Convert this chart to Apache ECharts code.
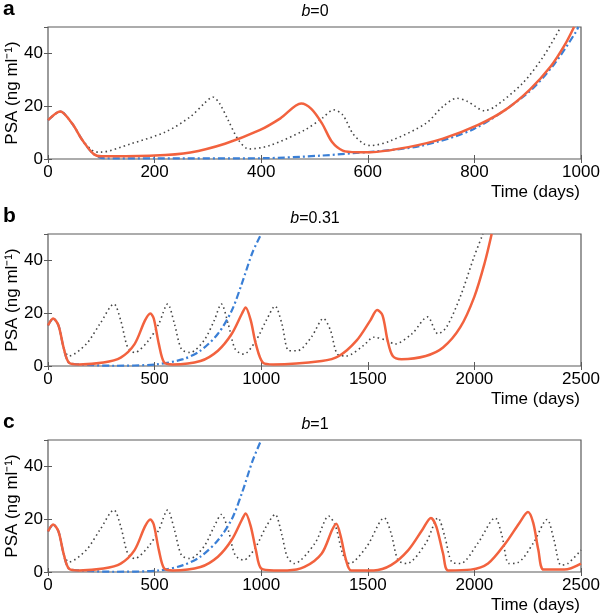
<!DOCTYPE html>
<html>
<head>
<meta charset="utf-8">
<script src="https://cdn.jsdelivr.net/npm/echarts@6/dist/echarts.min.js"></script>
<style>html,body{margin:0;padding:0;background:#fff;}#c{width:600px;height:615px;}</style>
</head>
<body>
<div id="c"></div>
<script>
// ---- data (time in days, PSA in ng/ml) ----
var panelTitles = ['0', '0.31', '1'];
var panelLetters = ['a', 'b', 'c'];
var xMaxes = [1000, 2500, 2500];
var xIntervals = [200, 500, 500];
var yTicks = [0, 20, 40];

var aRed = [[0,14.7],[23,18],[45,13.5],[65,7],[85,2],[100,1],[200,1.3],[267,2.5],[332,5.8],[397,10.9],[436,15.4],[475,21],[494,19],[514,13.5],[533,6.4],[553,3.2],[579,2.6],[605,2.6],[676,4.5],[741,7.7],[806,12.8],[858,18.6],[904,26.3],[943,35],[969,43],[987,50]];
var aDot = [[0,14.7],[23,18],[45,13.5],[65,7],[85,3],[98,2.6],[156,5.8],[221,10.3],[267,16],[293,21],[309,23.5],[322,21],[338,14.7],[358,7],[377,3.8],[416,5.1],[481,10.9],[514,15.4],[536,18.6],[553,16.7],[572,9.6],[592,5.8],[605,5.1],[644,7],[709,13.5],[741,19.9],[767,23],[787,21.8],[819,18.3],[839,19.9],[891,28.8],[930,39],[962,50]];
var aBlue = [[0,14.7],[23,18],[45,13.5],[65,7],[85,2],[104,0.3],[200,0.2],[403,0.3],[514,1.3],[572,2.2],[611,2.8],[700,5],[800,11.5],[900,25],[950,36],[990,48],[995,50]];

var bRed = [[0,15.4],[24,18],[49,15.4],[73,7],[98,1.3],[146,0.6],[260,1.3],[341,3.2],[406,8.3],[455,17.3],[480,19.9],[496,18],[520,8.3],[545,1.3],[585,0.6],[715,1.9],[797,5.8],[862,12.2],[910,19.9],[927,22.2],[951,17.3],[975,8.3],[1008,1.3],[1057,0.6],[1284,1.9],[1365,3.8],[1447,9.6],[1512,17.3],[1544,21.2],[1569,19.2],[1593,9.6],[1617,3.8],[1658,2.6],[1772,3.8],[1853,7],[1934,14.7],[2000,26.3],[2048,39],[2081,50]];
var bDot = [[0,15.4],[24,18],[49,15.4],[73,7],[98,3.8],[179,8.3],[244,16],[309,23.5],[341,17.3],[374,7],[406,5.1],[471,9.6],[520,16],[561,23.5],[593,16],[626,6.4],[666,5.1],[731,9.6],[780,17.3],[813,23.5],[845,16],[878,6.4],[918,4.5],[975,9.6],[1024,17.3],[1065,22.7],[1097,16],[1130,5.8],[1170,5.8],[1235,10.9],[1292,18],[1325,13.5],[1357,4.5],[1398,3.8],[1479,7.7],[1528,10.9],[1593,9.6],[1626,8.3],[1707,12.2],[1780,18.6],[1829,12.2],[1869,14.7],[1934,26.3],[2000,41.7],[2040,50]];
var bBlue = [[0,15.4],[24,18],[49,15.4],[73,7],[98,1.3],[146,0.6],[309,0.1],[504,0.6],[634,2.6],[715,5.8],[797,12.2],[862,21],[910,31.4],[959,43],[1000,50]];

var cRed = [[0,15.4],[24,18],[49,15.4],[73,7],[98,1.3],[146,0.6],[260,1.3],[341,3.2],[406,8.3],[455,17.3],[480,19.9],[496,18],[520,8.3],[545,1.3],[585,0.6],[715,1.9],[797,5.8],[862,12.2],[910,19.9],[927,22.2],[951,17.3],[975,8.3],[1000,1.3],[1060,0.6],[1122,0.6],[1203,1.9],[1284,7],[1333,16],[1352,18.3],[1373,13.5],[1398,4.5],[1422,0.6],[1528,0.6],[1609,2.6],[1690,8.3],[1756,16],[1796,20.5],[1821,17.3],[1853,7],[1877,0.6],[1983,0.9],[2064,3.2],[2146,10.9],[2211,18.6],[2251,22.7],[2276,18.6],[2300,8.3],[2325,0.9],[2422,0.9],[2500,3.2]];
var cDot = [[0,15.4],[24,18],[49,15.4],[73,7],[98,3.8],[179,8.3],[244,16],[309,23.5],[341,17.3],[374,7],[406,5.1],[471,9.6],[520,16],[561,23.5],[593,16],[626,6.4],[666,5.1],[731,9.6],[780,17.3],[813,21.8],[845,16],[878,6.4],[918,4.5],[975,9.6],[1024,17.3],[1065,21.8],[1097,14],[1122,5.8],[1154,3.2],[1252,10.9],[1317,21.2],[1349,17.3],[1382,7],[1414,3.2],[1495,9.6],[1577,20.5],[1609,14.7],[1642,4.5],[1682,3.2],[1772,10.9],[1829,20.5],[1861,13.5],[1894,3.8],[1934,3.2],[2016,10.9],[2097,20.5],[2130,13.5],[2162,3.2],[2203,3.5],[2276,10.9],[2341,19.9],[2373,12.2],[2406,2.6],[2438,3.2],[2500,8.3]];
var cBlue = [[0,15.4],[24,18],[49,15.4],[73,7],[98,1.3],[146,0.6],[309,0.1],[520,0.6],[634,2.6],[715,5.8],[797,12],[862,20],[910,30],[959,42],[1000,50]];

var redSets = [aRed, bRed, cRed];
var dotSets = [aDot, bDot, cDot];
var blueSets = [aBlue, bBlue, cBlue];

// ---- layout ----
var gridTops = [27, 234, 440];
var gridH = 132;
var LEFT = 48, RIGHT = 19;
var frame = '#5a5a5a';
var font = '"Liberation Sans", Arial, sans-serif';

var chart = echarts.init(document.getElementById('c'), null, {renderer: 'canvas'});
var grids = [], xAxes = [], yAxes = [], series = [], titles = [];

for (var p = 0; p < 3; p++) {
  grids.push({left: LEFT, right: RIGHT, top: gridTops[p], height: gridH, show: true, borderColor: frame, borderWidth: 1.2,
    backgroundColor: '#fff', containLabel: false, outerBoundsMode: 'none'});
  var common = {min: 0, max: xMaxes[p], interval: xIntervals[p], gridIndex: p, splitLine: {show: false},
    axisLine: {show: false}, axisTick: {inside: true, length: 4, lineStyle: {color: frame}}};
  xAxes.push(Object.assign({}, common, {type: 'value', position: 'bottom',
    axisLabel: {color: '#000', fontSize: 17, fontFamily: font, margin: 5, showMinLabel: true, showMaxLabel: true,
      formatter: function (v) { return String(v); }}}));
  xAxes.push(Object.assign({}, common, {type: 'value', position: 'top', axisLabel: {show: false}}));
  var ycommon = {type: 'value', min: 0, max: 50, interval: 20, gridIndex: p, splitLine: {show: false},
    axisLine: {show: false}, axisTick: {inside: true, length: 4, lineStyle: {color: frame}}};
  yAxes.push(Object.assign({}, ycommon, {position: 'left',
    axisLabel: {color: '#000', fontSize: 17, fontFamily: font, margin: 5, showMaxLabel: false,
      formatter: function (v) { return yTicks.indexOf(v) >= 0 ? String(v) : ''; }},
    name: 'PSA (ng ml\u207B\u00B9)', nameLocation: 'middle', nameGap: 27, nameMoveOverlap: false,
    nameTextStyle: {color: '#000', fontSize: 17, fontFamily: font}}));
  yAxes.push(Object.assign({}, ycommon, {position: 'right', axisLabel: {show: false}}));

  var xi = p * 2, yi = p * 2;
  series.push({type: 'line', xAxisIndex: xi, yAxisIndex: yi, data: dotSets[p], showSymbol: false, symbol: 'none',
    smooth: 0.3, clip: true, lineStyle: {color: '#444', width: 1.6, type: [1.5, 3.2]}, z: 2});
  series.push({type: 'line', xAxisIndex: xi, yAxisIndex: yi, data: blueSets[p], showSymbol: false, symbol: 'none',
    smooth: 0.3, clip: true, lineStyle: {color: '#3a7fd6', width: 2.2, type: [7, 3, 2, 3]}, z: 3});
  series.push({type: 'line', xAxisIndex: xi, yAxisIndex: yi, data: redSets[p], showSymbol: false, symbol: 'none',
    smooth: 0.3, clip: true, lineStyle: {color: '#f2623e', width: 2.5}, z: 4});

  titles.push({text: '{i|b}=' + panelTitles[p], left: 315, top: gridTops[p] - 23, textAlign: 'center', padding: 0,
    textStyle: {fontSize: 16, fontWeight: 'normal', color: '#000', fontFamily: font,
      rich: {i: {fontStyle: 'italic', fontSize: 16, fontFamily: font, color: '#000'}}}});
  titles.push({text: panelLetters[p], left: 3, top: gridTops[p] - 28, padding: 0,
    textStyle: {fontSize: 21, fontWeight: 'bold', color: '#000', fontFamily: font}});
  titles.push({text: 'Time (days)', right: 20, top: gridTops[p] + gridH + 25, padding: 0,
    textStyle: {fontSize: 17, fontWeight: 'normal', color: '#000', fontFamily: font}});
}

chart.setOption({
  animation: false,
  backgroundColor: '#fff',
  title: titles,
  grid: grids,
  xAxis: xAxes,
  yAxis: yAxes,
  series: series
});
</script>
</body>
</html>
